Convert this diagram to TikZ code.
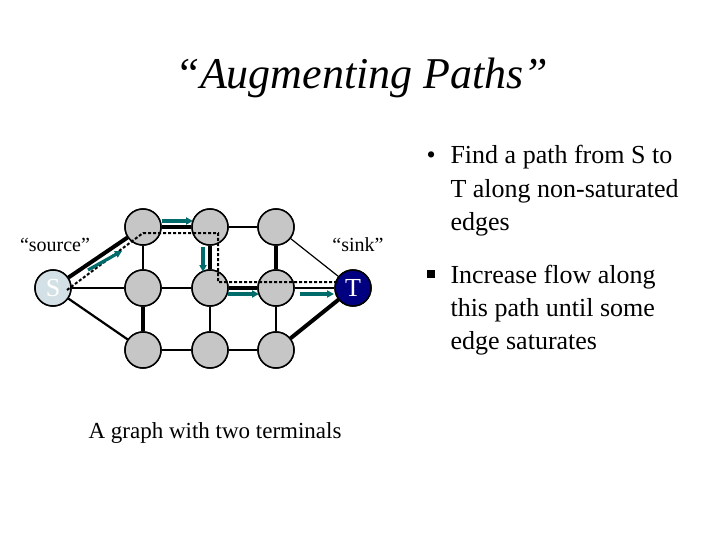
\documentclass[tikz,border=0pt]{standalone}
\usepackage{fontspec}
\setmainfont{Liberation Serif}
\usetikzlibrary{arrows.meta}
\begin{document}
\begin{tikzpicture}[x=1pt,y=-1pt,
  v/.style={circle,draw=black,line width=1.5pt,fill=gray!45,minimum size=36pt,inner sep=0pt},
  thin/.style={line width=1.2pt},
  med/.style={line width=2.2pt},
  thk/.style={line width=4pt},
  flow/.style={-{Triangle[length=7pt,width=7pt]},line width=3.2pt,draw=teal!80!cyan!70!black},
  path/.style={line width=2pt,dash pattern=on 3pt off 2pt},
  txt/.style={anchor=base west,font=\fontsize{26}{30}\selectfont}]
\useasboundingbox (0,0) rectangle (720,540);
\node (title) at (362,78) {\fontsize{44}{50}\selectfont\itshape “Augmenting Paths”};
\node[v,fill=cyan!30!gray!30,text=white] (S) at (53,288) {\fontsize{26}{28}\selectfont S};
\node[v,fill=blue!50!black,text=white] (T) at (353,288) {\fontsize{26}{28}\selectfont T};
\foreach \c/\x in {1/143,2/210,3/276}{
  \node[v] (t\c) at (\x,227) {};
  \node[v] (m\c) at (\x,288) {};
  \node[v] (b\c) at (\x,350) {};
}
\draw[thk] (S) -- (t1);
\draw[thin] (S) -- (m1);
\draw[med] (S) -- (b1);
\draw[thk] (t1) -- (t2);
\draw[thin] (t2) -- (t3);
\draw[thin] (t3) -- (T);
\draw[med] (m1) -- (m2);
\draw[thk] (m2) -- (m3);
\draw[med] (m3) -- (T);
\draw[med] (b1) -- (b2);
\draw[med] (b2) -- (b3);
\draw[thk] (b3) -- (T);
\draw[med] (t1) -- (m1);
\draw[thk] (m1) -- (b1);
\draw[thk] (t2) -- (m2);
\draw[med] (m2) -- (b2);
\draw[thk] (t3) -- (m3);
\draw[med] (m3) -- (b3);
\node[v,fill=cyan!30!gray!30,text=white] at (S) {\fontsize{26}{28}\selectfont S};
\node[v,fill=blue!50!black,text=white] at (T) {\fontsize{26}{28}\selectfont T};
\foreach \c/\x in {1/143,2/210,3/276}{
  \node[v] at (\x,227) {};
  \node[v] at (\x,288) {};
  \node[v] at (\x,350) {};
}
\coordinate (p1) at (143,233);
\coordinate (p2) at (218,233);
\coordinate (p3) at (218,282);
\coordinate (p4) at (337,282);
\draw[path] ([xshift=14pt,yshift=-2pt]S.center) -- (p1) -- (p2) -- (p3) -- (p4);
\coordinate (a1) at (88,270); \coordinate (a2) at (122,251);
\coordinate (a3) at (162,221); \coordinate (a4) at (193,221);
\coordinate (a5) at (203,247); \coordinate (a6) at (203,272);
\coordinate (a7) at (228,294); \coordinate (a8) at (259,294);
\coordinate (a9) at (300,294); \coordinate (a10) at (334,294);
\draw[flow] (a1) -- (a2);
\draw[flow] (a3) -- (a4);
\draw[flow] (a5) -- (a6);
\draw[flow] (a7) -- (a8);
\draw[flow] (a9) -- (a10);
\node (src) at (55,245) {\fontsize{20}{22}\selectfont “source”};
\node (snk) at (358,245) {\fontsize{20}{22}\selectfont “sink”};
\node (cap) at (215,433) {\fontsize{23}{26}\selectfont A graph with two terminals};
\node[txt] (l0) at (423,164) {•};
\node[txt] (l1) at (447,164) {Find a path from S to};
\node[txt] (l2) at (447,197) {T along non-saturated};
\node[txt] (l3) at (447,230) {edges};
\node[anchor=center] (sq) at (431,274) {\rule{8pt}{8pt}};
\node[txt] (l4) at (447,283) {Increase flow along};
\node[txt] (l5) at (447,316) {this path until some};
\node[txt] (l6) at (447,349) {edge saturates};
\end{tikzpicture}
\end{document}
